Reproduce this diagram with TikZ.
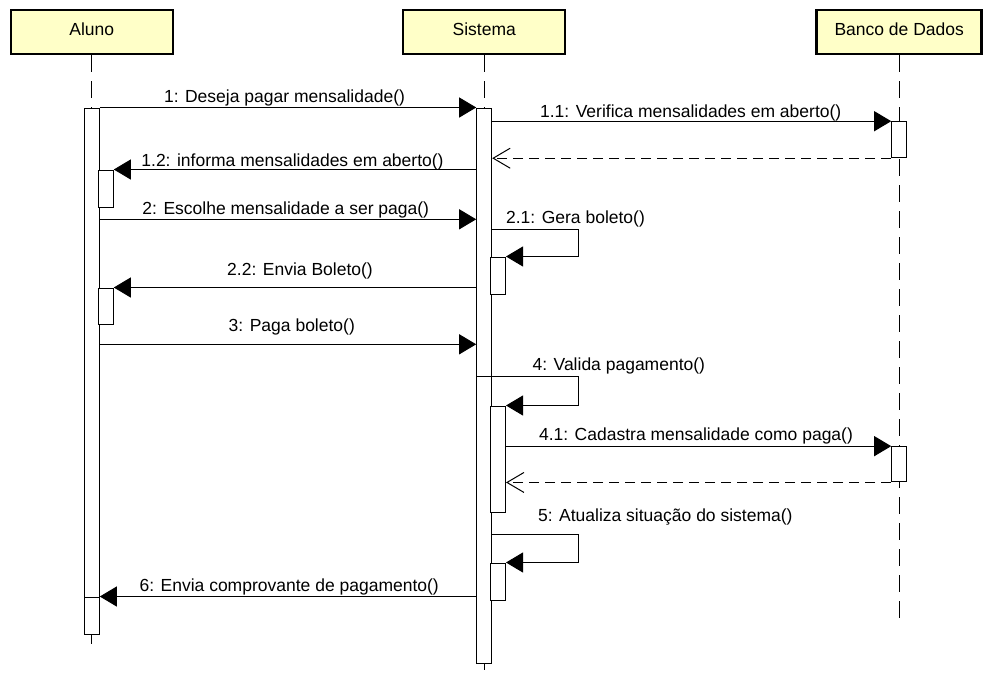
\documentclass[tikz,border=0pt]{standalone}
\usepackage{fontspec}
\setmainfont{Liberation Sans}
\usetikzlibrary{arrows.meta}
\definecolor{objfill}{RGB}{255,255,200}

\begin{document}
\begin{tikzpicture}[x=1pt,y=-1pt,line width=1pt,>={Triangle[length=17pt,width=20pt]},
  font=\fontsize{17.5}{21}\selectfont]
\tikzset{obj/.style={draw,line width=2.5pt,fill=objfill,minimum width=162pt,
    minimum height=44pt,inner sep=0pt,text height=12pt,text depth=5pt},
  life/.style={line width=1pt,dash pattern=on 17pt off 9pt},
  act/.style={draw,fill=white,line width=1pt,minimum width=15pt,inner sep=0pt},
  msg/.style={line width=1pt,->},
  ret/.style={line width=1pt,dash pattern=on 10pt off 6pt,
    -{Straight Barb[length=17pt,width=20pt]}},
  lbl/.style={anchor=base,inner sep=0pt}}
\useasboundingbox (0,0) rectangle (990,681);
% ================= objects =================
\node[obj] (aluno) at (91.8,32) {Aluno};
\node[obj] (sistema) at (484.2,32) {Sistema};
\node[obj,minimum width=165pt] (banco) at (899.2,32) {Banco de Dados};
% lifelines
\coordinate (alunoEnd) at (91.8,648);
\coordinate (sistemaEnd) at (484.2,674);
\coordinate (bancoEnd) at (899.2,622);
\draw[life] (aluno.south) -- (alunoEnd);
\draw[life] (sistema.south) -- (sistemaEnd);
\draw[life] (banco.south) -- (bancoEnd);
% ================= activations =================
\node[act,minimum height=526pt] (aAct) at (91.8,371) {};
\node[act,minimum height=37pt] (a1) at (105.8,188.5) {};
\node[act,minimum height=36pt] (a2) at (105.8,306) {};
\node[act,minimum height=37pt] (a3) at (91.8,615.5) {};
\node[act,minimum height=555pt] (sAct) at (484.2,385.5) {};
\node[act,minimum height=37pt] (s1) at (498,275.5) {};
\node[act,minimum height=106pt] (s2) at (498,459) {};
\node[act,minimum height=37pt] (s3) at (498,581.5) {};
\node[act,minimum height=36pt] (b1) at (899.2,139.7) {};
\node[act,minimum height=35.3pt] (b2) at (899.2,464.3) {};
% ================= message rows =================
\coordinate (r2) at (0,219.3);
\coordinate (r21) at (0,229);
\coordinate (r3) at (0,344.3);
\coordinate (r4) at (0,376.7);
\coordinate (r5) at (0,534);
\coordinate (loopx) at (578.3,0);
% ================= messages =================
\draw[msg] (aAct.north east) -- (sAct.north west);
\node[lbl] (l1) at (284.5,102.5) {1: Deseja pagar mensalidade()};
\draw[msg] (sAct.east |- b1.north) -- (b1.north west);
\node[lbl] (l11) at (690.7,117) {1.1: Verifica mensalidades em aberto()};
\draw[ret] (b1.south west) -- (sAct.east |- b1.south);
\draw[msg] (sAct.west |- a1.north) -- (a1.north east);
\node[lbl] (l12) at (292.5,166) {1.2: informa mensalidades em aberto()};
\draw[msg] (aAct.east |- r2) -- (sAct.west |- r2);
\node[lbl] (l2) at (285.8,214) {2: Escolhe mensalidade a ser paga()};
% self call 2.1
\draw[msg] (sAct.east |- r21) -- (loopx |- r21) |- (s1.north east);
\node[lbl] (l21) at (575.5,223.3) {2.1: Gera boleto()};
\draw[msg] (sAct.west |- a2.north) -- (a2.north east);
\node[lbl] (l22) at (300,275) {2.2: Envia Boleto()};
\draw[msg] (aAct.east |- r3) -- (sAct.west |- r3);
\node[lbl] (l3) at (291.8,331.7) {3: Paga boleto()};
% self call 4
\draw[msg] (sAct.west |- r4) -- (loopx |- r4) |- (s2.north east);
\node[lbl] (l4) at (618.8,370.7) {4: Valida pagamento()};
\draw[msg] (s2.east |- b2.north) -- (b2.north west);
\node[lbl] (l41) at (696,440) {4.1: Cadastra mensalidade como paga()};
\draw[ret] (b2.south west) -- (s2.east |- b2.south);
% self call 5
\draw[msg] (sAct.east |- r5) -- (loopx |- r5) |- (s3.north east);
\node[lbl] (l5) at (665.3,521.7) {5: Atualiza situação do sistema()};
\draw[msg] (sAct.west |- a3.north) -- (a3.north east);
\node[lbl] (l6) at (289.2,591.7) {6: Envia comprovante de pagamento()};
\end{tikzpicture}
\end{document}
